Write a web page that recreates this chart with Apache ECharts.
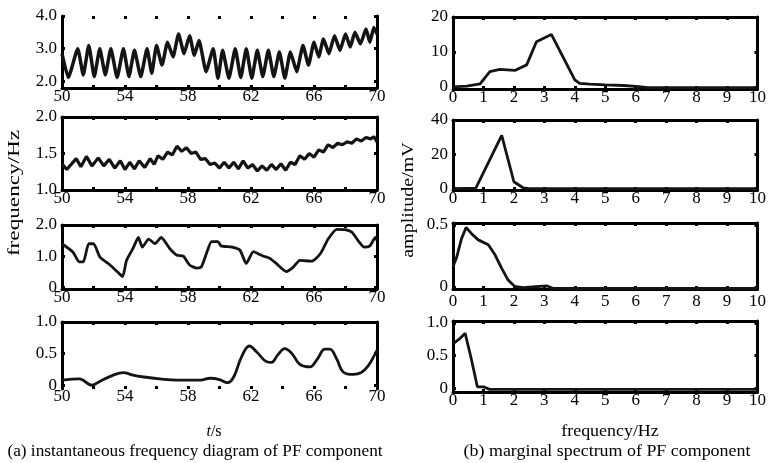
<!DOCTYPE html>
<html>
<head>
<meta charset="utf-8">
<script src="https://cdn.jsdelivr.net/npm/echarts@6/dist/echarts.min.js"></script>
<style>
html,body{margin:0;padding:0;background:#fff;}
#chart{width:769px;height:463px;}
</style>
</head>
<body>
<div id="chart"></div>
<script>
// ---------- data ----------
const timeTicks = [50, 54, 58, 62, 66, 70];
const freqTicks = [0, 1, 2, 3, 4, 5, 6, 7, 8, 9, 10];

const L1t = [50.0, 50.4, 51.0, 51.35, 51.7, 52.05, 52.4, 52.75, 53.1, 53.5, 53.9, 54.25, 54.6, 55.0, 55.4, 55.7, 56.0, 56.35, 56.7, 57.05, 57.4, 57.75, 58.1, 58.4, 58.7, 59.15, 59.6, 59.9, 60.2, 60.6, 61.0, 61.35, 61.7, 62.05, 62.4, 62.75, 63.1, 63.45, 63.8, 64.15, 64.5, 64.9, 65.3, 65.65, 66.0, 66.3, 66.6, 66.95, 67.3, 67.65, 68.0, 68.3, 68.6, 68.95, 69.3, 69.55, 69.8, 70.0];
const L1f = [2.85, 2.12, 3.0, 2.2, 3.1, 2.15, 3.0, 2.2, 3.0, 2.12, 3.0, 2.15, 2.95, 2.15, 3.0, 2.25, 3.1, 2.5, 3.2, 2.75, 3.45, 2.85, 3.4, 2.8, 3.25, 2.3, 3.0, 2.1, 2.95, 2.1, 3.0, 2.12, 3.0, 2.1, 2.95, 2.15, 2.95, 2.15, 2.9, 2.1, 2.9, 2.3, 3.1, 2.5, 3.2, 2.75, 3.3, 2.85, 3.4, 2.95, 3.45, 3.05, 3.5, 3.15, 3.6, 3.2, 3.65, 3.45];

const L2t = [50.0, 50.3, 50.9, 51.2, 51.55, 51.9, 52.3, 52.65, 53.0, 53.35, 53.7, 54.0, 54.3, 54.6, 54.9, 55.25, 55.6, 55.85, 56.1, 56.4, 56.7, 57.0, 57.3, 57.6, 57.9, 58.2, 58.5, 58.8, 59.1, 59.4, 59.7, 60.0, 60.3, 60.6, 60.9, 61.2, 61.5, 61.8, 62.1, 62.4, 62.7, 63.0, 63.3, 63.6, 63.9, 64.2, 64.5, 64.8, 65.1, 65.4, 65.7, 66.0, 66.3, 66.6, 66.9, 67.2, 67.5, 67.8, 68.1, 68.4, 68.7, 69.0, 69.3, 69.6, 69.8, 70.0];
const L2f = [1.36, 1.28, 1.43, 1.32, 1.46, 1.33, 1.44, 1.33, 1.42, 1.3, 1.4, 1.28, 1.38, 1.29, 1.4, 1.31, 1.43, 1.35, 1.47, 1.42, 1.52, 1.48, 1.6, 1.53, 1.58, 1.5, 1.52, 1.42, 1.43, 1.35, 1.37, 1.3, 1.38, 1.3, 1.38, 1.29, 1.4, 1.3, 1.35, 1.26, 1.33, 1.27, 1.35, 1.28, 1.36, 1.27, 1.38, 1.35, 1.47, 1.42, 1.5, 1.45, 1.55, 1.52, 1.62, 1.58, 1.64, 1.62, 1.66, 1.64, 1.7, 1.67, 1.72, 1.7, 1.73, 1.66];

const L3t = [50.0, 50.7, 51.1, 51.35, 51.7, 52.0, 52.4, 53.05, 53.6, 53.85, 54.1, 54.5, 54.85, 55.1, 55.5, 55.9, 56.3, 56.85, 57.3, 57.7, 58.1, 58.55, 58.85, 59.2, 59.5, 59.9, 60.1, 60.8, 61.3, 61.7, 62.15, 62.45, 62.8, 63.2, 63.6, 64.25, 64.7, 65.1, 65.85, 66.4, 66.9, 67.45, 67.95, 68.4, 68.8, 69.2, 69.55, 69.9, 70.0];
const L3f = [1.4, 1.13, 0.82, 0.82, 1.4, 1.4, 0.98, 0.72, 0.46, 0.35, 0.87, 1.24, 1.6, 1.29, 1.55, 1.4, 1.6, 1.24, 1.03, 1.0, 0.72, 0.62, 0.66, 1.13, 1.47, 1.47, 1.33, 1.29, 1.19, 0.77, 1.15, 1.08, 1.0, 0.93, 0.77, 0.51, 0.66, 0.87, 0.84, 1.08, 1.55, 1.86, 1.85, 1.77, 1.5, 1.29, 1.33, 1.6, 1.5];

const L4t = [50.0, 51.1, 51.9, 52.4, 53.25, 53.9, 54.5, 55.2, 56.2, 57.3, 58.8, 59.4, 60.0, 60.5, 60.9, 61.4, 61.9, 62.35, 63.0, 63.3, 63.7, 64.15, 64.6, 65.1, 65.75, 66.2, 66.7, 67.0, 67.45, 67.85, 68.5, 69.0, 69.45, 69.85, 70.0];
const L4f = [0.08, 0.1, 0.0, 0.06, 0.16, 0.2, 0.16, 0.13, 0.1, 0.08, 0.08, 0.11, 0.09, 0.04, 0.13, 0.45, 0.62, 0.53, 0.37, 0.36, 0.48, 0.58, 0.5, 0.33, 0.29, 0.41, 0.57, 0.57, 0.41, 0.21, 0.17, 0.2, 0.31, 0.48, 0.55];

const R1f = [0, 0.45, 0.89, 1.21, 1.54, 2.03, 2.42, 2.74, 3.23, 4.0, 4.16, 4.5, 5.0, 5.6, 6.1, 6.4, 7, 8, 9, 10];
const R1a = [0, 0.2, 0.9, 4.4, 5.0, 4.7, 6.3, 12.9, 15.0, 2.0, 1.0, 0.8, 0.6, 0.4, 0.1, -0.2, -0.2, -0.2, -0.2, -0.2];

const R2f = [0, 0.75, 1.6, 2.0, 2.3, 2.5, 10];
const R2a = [0, 0.3, 31, 4, 0.5, 0, 0];

const R3f = [0, 0.12, 0.28, 0.43, 0.61, 0.83, 1.16, 1.38, 1.6, 1.81, 2.03, 2.3, 2.58, 3.07, 3.3, 10];
const R3a = [0.164, 0.24, 0.39, 0.48, 0.43, 0.38, 0.34, 0.26, 0.15, 0.056, 0.005, -0.005, 0.0, 0.01, -0.012, -0.012];

const R4f = [0, 0.2, 0.4, 0.6, 0.8, 1.0, 1.2, 10];
const R4a = [0.68, 0.75, 0.84, 0.45, 0.02, 0.02, -0.02, -0.02];

const yTicksL = [[2, 3, 4], [1, 1.5, 2], [0, 1, 2], [0, 0.5, 1]];
const yTicksR = [[0, 10, 20], [0, 20, 40], [0, 0.5], [0, 0.5, 1]];

// ---------- layout / style ----------
const FONT = "'Liberation Serif','Times New Roman',serif";
const BLACK = '#000';
const zip = (a, b) => a.map((v, i) => [v, b[i]]);
const fmtY = v => (v === 0 ? '0' : (Number.isInteger(v) && Math.abs(v) >= 10 ? String(v) : v.toFixed(1)));

const panels = [
  // left column
  { left: 62, width: 315, top: 16, height: 72, min: 1.8, max: 4.0, xmin: 50, xmax: 70, xint: 2, xlab: timeTicks, yt: yTicksL[0], x: L1t, y: L1f, showTop: false, showBottom: true, lw: 3.5, smooth: 0.15, lm: 0 },
  { left: 62, width: 315, top: 117, height: 73, min: 1.0, max: 2.0, xmin: 50, xmax: 70, xint: 2, xlab: timeTicks, yt: yTicksL[1], x: L2t, y: L2f, showTop: true, showBottom: true, lw: 3.2, smooth: false, lm: 0 },
  { left: 62, width: 315, top: 225, height: 64, min: -0.05, max: 2.0, xmin: 50, xmax: 70, xint: 2, xlab: timeTicks, yt: yTicksL[2], x: L3t, y: L3f, showTop: true, showBottom: true, lw: 2.8, smooth: 0.2, lm: 0 },
  { left: 62, width: 315, top: 322, height: 67, min: -0.06, max: 1.0, xmin: 50, xmax: 70, xint: 2, xlab: timeTicks, yt: yTicksL[3], x: L4t, y: L4f, showTop: true, showBottom: false, lw: 2.8, smooth: 0.4, lm: -1 },
  // right column
  { left: 453, width: 305, top: 17, height: 72, min: -0.6, max: 20, xmin: 0, xmax: 10, xint: 1, xlab: freqTicks, yt: yTicksR[0], x: R1f, y: R1a, showTop: true, showBottom: true, lw: 2.8, smooth: false, lm: 0 },
  { left: 453, width: 305, top: 120, height: 70, min: -0.8, max: 40, xmin: 0, xmax: 10, xint: 1, xlab: freqTicks, yt: yTicksR[1], x: R2f, y: R2a, showTop: true, showBottom: true, lw: 2.8, smooth: false, lm: 0 },
  { left: 453, width: 305, top: 223, height: 66, min: -0.016, max: 0.516, xmin: 0, xmax: 10, xint: 1, xlab: freqTicks, yt: yTicksR[2], x: R3f, y: R3a, showTop: true, showBottom: true, lw: 2.8, smooth: false, lm: 4 },
  { left: 453, width: 305, top: 321, height: 71, min: -0.06, max: 1.03, xmin: 0, xmax: 10, xint: 1, xlab: freqTicks, yt: yTicksR[3], x: R4f, y: R4a, showTop: true, showBottom: true, lw: 2.8, smooth: false, lm: 0 }
];

const grid = [], xAxis = [], yAxis = [], series = [];
panels.forEach((p, i) => {
  grid.push({ left: p.left, top: p.top, width: p.width, height: p.height, containLabel: false });
  const tickStyle = { show: true, inside: true, length: 3, lineStyle: { color: BLACK, width: 3 } };
  xAxis.push({
    type: 'value', gridIndex: i, position: 'bottom', min: p.xmin, max: p.xmax, interval: p.xint,
    axisLine: { show: p.showBottom, onZero: false, lineStyle: { color: BLACK, width: 3 } },
    axisTick: tickStyle,
    axisLabel: { show: true, customValues: p.xlab, margin: p.lm, color: BLACK, fontFamily: FONT, fontSize: 17 },
    splitLine: { show: false }
  });
  xAxis.push({
    type: 'value', gridIndex: i, position: 'top', min: p.xmin, max: p.xmax, interval: p.xint,
    axisLine: { show: p.showTop, onZero: false, lineStyle: { color: BLACK, width: 3 } },
    axisTick: tickStyle,
    axisLabel: { show: false },
    splitLine: { show: false }
  });
  yAxis.push({
    type: 'value', gridIndex: i, position: 'left', min: p.min, max: p.max,
    axisLine: { show: true, onZero: false, lineStyle: { color: BLACK, width: 3 } },
    axisTick: { show: true, inside: true, length: 3, customValues: p.yt, lineStyle: { color: BLACK, width: 3 } },
    axisLabel: { show: true, customValues: p.yt, formatter: fmtY, margin: 5, color: BLACK, fontFamily: FONT, fontSize: 17 },
    splitLine: { show: false }
  });
  yAxis.push({
    type: 'value', gridIndex: i, position: 'right', min: p.min, max: p.max,
    axisLine: { show: true, onZero: false, lineStyle: { color: BLACK, width: 3 } },
    axisTick: { show: true, inside: true, length: 3, customValues: p.yt, lineStyle: { color: BLACK, width: 3 } },
    axisLabel: { show: false },
    splitLine: { show: false }
  });
  series.push({
    type: 'line', xAxisIndex: 2 * i, yAxisIndex: 2 * i,
    data: zip(p.x, p.y), showSymbol: false, smooth: p.smooth,
    lineStyle: { color: '#141414', width: p.lw }, animation: false, silent: true
  });
});

const textStyle = (text, size, extra) => Object.assign({ text: text, fill: BLACK, font: size + 'px ' + FONT, textAlign: 'center', textVerticalAlign: 'middle' }, extra || {});

const option = {
  backgroundColor: '#fff',
  animation: false,
  grid: grid, xAxis: xAxis, yAxis: yAxis, series: series,
  graphic: [
    { type: 'text', x: 15, y: 193, rotation: Math.PI / 2, scaleX: 1.45, style: textStyle('frequency/Hz', 16) },
    { type: 'text', x: 409, y: 200, rotation: Math.PI / 2, scaleX: 1.25, style: textStyle('amplitude/mV', 16) },
    { type: 'text', x: 214, y: 432, style: { text: '{i|t}/s', fill: BLACK, font: '16px ' + FONT, textAlign: 'center', textVerticalAlign: 'middle', rich: { i: { fontStyle: 'italic', fontFamily: FONT, fontSize: 16 } } } },
    { type: 'text', x: 610, y: 432, scaleX: 1.12, style: textStyle('frequency/Hz', 16) },
    { type: 'text', x: 195, y: 452, scaleX: 1.08, style: textStyle('(a) instantaneous frequency diagram of PF component', 16) },
    { type: 'text', x: 607, y: 452, scaleX: 1.12, style: textStyle('(b) marginal spectrum of PF component', 16) }
  ]
};

const chart = echarts.init(document.getElementById('chart'), null, { renderer: 'canvas' });
chart.setOption(option);
</script>
</body>
</html>
